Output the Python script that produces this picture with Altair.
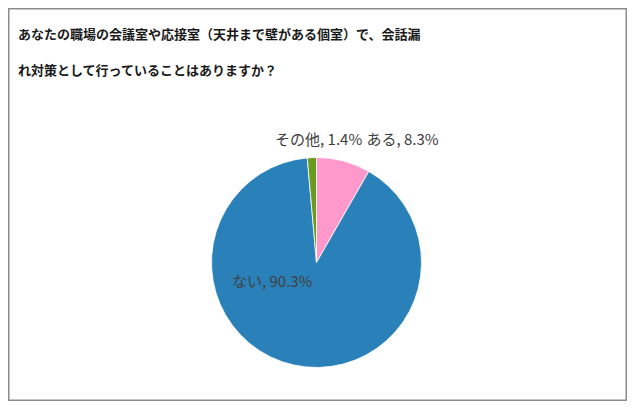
import altair as alt
import pandas as pd

categories = ["ある", "ない", "その他"]
percents = [8.3, 90.3, 1.4]
labels = ["ある, 8.3%", "ない, 90.3%", "その他, 1.4%"]
colors = ["#FF99CC", "#2A80B9", "#6B9B1E"]
title_lines = [
    "あなたの職場の会議室や応接室（天井まで壁がある個室）で、会話漏",
    "れ対策として行っていることはありますか？",
]

df = pd.DataFrame({"category": categories, "percent": percents, "label": labels})

W, H = 619, 393
CX, CY = 308.5, 254.5
FONT = "Noto Sans CJK JP"

base = alt.Chart(df).transform_window(idx="row_number()").encode(
    theta=alt.Theta("percent:Q", stack=True),
    order=alt.Order("idx:Q", sort="ascending"),
)

pie = base.mark_arc(radius=105, stroke="white", strokeWidth=0.8).encode(
    x=alt.value(CX),
    y=alt.value(CY),
    color=alt.Color(
        "category:N",
        scale=alt.Scale(domain=categories, range=colors),
        legend=None,
    ),
)


def label_layer(cat, radius, align, dx, dy):
    return base.mark_text(
        radius=radius, align=align, baseline="middle", dx=dx, dy=dy,
        font=FONT, fontSize=15, color="#404040",
    ).encode(
        x=alt.value(CX),
        y=alt.value(CY),
        text=alt.condition(alt.datum.category == cat, "label:N", alt.value("")),
    )


lab_aru = label_layer("ある", 120, "left", 19, -7)
lab_sonota = label_layer("その他", 120, "right", 51, -3)
lab_nai = label_layer("ない", 20, "center", -40, 0)

chart = alt.layer(pie, lab_aru, lab_sonota, lab_nai).properties(
    width=W,
    height=H,
    autosize=alt.AutoSizeParams(type="none"),
    padding=0,
    background="white",
    title=alt.TitleParams(
        text=title_lines,
        anchor="start",
        frame="group",
        orient="top",
        offset=0,
        dx=10,
        dy=70,
        baseline="top",
        font=FONT,
        fontSize=13,
        fontWeight="bold",
        color="#1a1a1a",
        lineHeight=36,
    ),
).configure_view(stroke="#8c8c8c", strokeWidth=3)

chart.save("out.html", embed_options={"renderer": "svg", "actions": False})
